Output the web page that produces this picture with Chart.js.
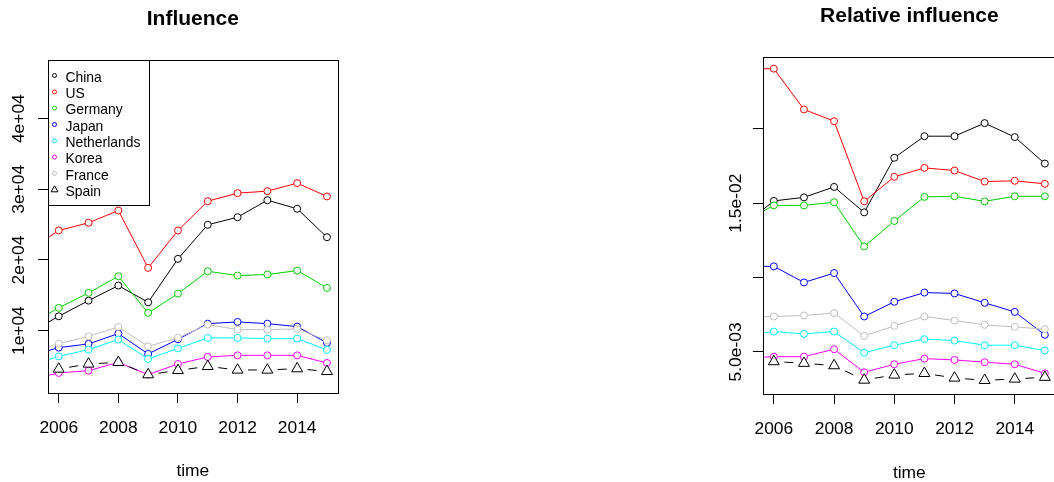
<!DOCTYPE html>
<html>
<head>
<meta charset="utf-8">
<title>Influence and relative influence</title>
<script src="https://cdn.jsdelivr.net/npm/chart.js@4.4.1/dist/chart.umd.min.js"></script>
<style>
  html, body { margin: 0; padding: 0; background: #ffffff; width: 1054px; height: 482px; overflow: hidden; }
  canvas { position: absolute; top: 0; }
  #influence { left: 0; }
  #relative { left: 703px; }
</style>
</head>
<body>
<canvas id="influence" width="345" height="482"></canvas>
<canvas id="relative" width="360" height="484"></canvas>
<script>
// ---- data ----
const years = [2005, 2006, 2007, 2008, 2009, 2010, 2011, 2012, 2013, 2014, 2015];
const countries = ['China', 'US', 'Germany', 'Japan', 'Netherlands', 'Korea', 'France', 'Spain'];
const colors = ['#000000', '#FF0000', '#00CD00', '#0000FF', '#00FFFF', '#FF00FF', '#BEBEBE', '#000000'];

// influence (absolute)
const infChina       = [9660, 12030, 14250, 16380, 14010, 20160, 24980, 26050, 28460, 27250, 23220];
const infUS          = [21300, 24170, 25260, 27000, 18880, 24170, 28320, 29460, 29740, 30870, 28990];
const infGermany     = [10850, 13220, 15340, 17690, 12510, 15240, 18400, 17790, 17940, 18500, 16050];
const infJapan       = [6420, 7590, 8120, 9580, 6700, 8770, 10990, 11230, 10990, 10570, 8260];
const infNetherlands = [5050, 6360, 7310, 8730, 5990, 7490, 8970, 8970, 8870, 8870, 7270];
const infKorea       = [3060, 4010, 4330, 5510, 3770, 5280, 6270, 6500, 6500, 6500, 5420];
const infFrance      = [6700, 8160, 9190, 10520, 7780, 8970, 10850, 10140, 10140, 10240, 8630];
const infSpain       = [3900, 4570, 5280, 5510, 3770, 4370, 4940, 4430, 4430, 4620, 4230];

// relative influence
const relChina       = [0.01353, 0.01515, 0.01539, 0.01609, 0.01438, 0.01805, 0.01950, 0.01950, 0.02038, 0.01944, 0.01766];
const relUS          = [0.02401, 0.02404, 0.02130, 0.02051, 0.01512, 0.01677, 0.01737, 0.01719, 0.01645, 0.01650, 0.01630];
const relGermany     = [0.01374, 0.01485, 0.01485, 0.01506, 0.01209, 0.01380, 0.01542, 0.01546, 0.01512, 0.01546, 0.01546];
const relJapan       = [0.01075, 0.01075, 0.00967, 0.01030, 0.00738, 0.00837, 0.00899, 0.00893, 0.00830, 0.00769, 0.00615];
const relNetherlands = [0.00610, 0.00637, 0.00621, 0.00637, 0.00495, 0.00545, 0.00586, 0.00576, 0.00545, 0.00545, 0.00509];
const relKorea       = [0.00458, 0.00468, 0.00468, 0.00518, 0.00363, 0.00417, 0.00455, 0.00446, 0.00431, 0.00417, 0.00356];
const relFrance      = [0.00735, 0.00738, 0.00745, 0.00761, 0.00608, 0.00675, 0.00738, 0.00711, 0.00682, 0.00668, 0.00653];
const relSpain       = [0.00396, 0.00435, 0.00424, 0.00408, 0.00311, 0.00345, 0.00356, 0.00325, 0.00309, 0.00318, 0.00330];

// axes
const xMin = 2005.64, xMax = 2015.36;
const xTicks = [2006, 2008, 2010, 2012, 2014];
const infMin = 1172, infMax = 48302;
const infTicks = [10000, 20000, 30000, 40000];
const infTickLabels = ['1e+04', '2e+04', '3e+04', '4e+04'];
const relMin = 0.002171, relMax = 0.024824;
const relTicks = [0.005, 0.010, 0.015, 0.020];
const relTickLabels = ['5.0e-03', '', '1.5e-02', ''];

// ---- drawing ----
const FONT = '"Liberation Sans", Arial, Helvetica, sans-serif';
Chart.defaults.font.family = FONT;
Chart.defaults.color = '#000000';

const DASH_ON = 9;

function makeDatasets(series) {
  return series.map((vals, i) => {
    const isSpain = countries[i] === 'Spain';
    const ds = {
      label: countries[i],
      data: years.map((yr, k) => ({ x: yr, y: vals[k] })),
      borderColor: colors[i],
      backgroundColor: colors[i],
      borderWidth: 1,
      pointStyle: isSpain ? 'triangle' : 'circle',
      pointRadius: isSpain ? 6.3 : 3.5,
      pointBorderWidth: 1,
      pointBorderColor: colors[i],
      pointBackgroundColor: '#ffffff',
      tension: 0,
      order: countries.length - i,
      clip: { left: 0, top: 0, right: 0, bottom: 0 }
    };
    if (isSpain) {
      // one centred dash between consecutive markers
      ds.borderDash = [DASH_ON, 60];
      ds.segment = {
        borderDash: [DASH_ON, 60],
        borderDashOffset: c => {
          const len = Math.hypot(c.p1.x - c.p0.x, c.p1.y - c.p0.y);
          return -((len - DASH_ON) / 2) + c.p0DataIndex * 1e-6;
        }
      };
    }
    return ds;
  });
}

// plot frame around the chart area
const frame = {
  id: 'frame',
  afterDraw(chart) {
    const { ctx, chartArea: a } = chart;
    const l = Math.round(a.left) + 0.5, t = Math.round(a.top) + 0.5;
    const r = Math.round(a.right) + 0.5, b = Math.round(a.bottom) + 0.5;
    ctx.save();
    ctx.strokeStyle = '#000000';
    ctx.lineWidth = 1;
    ctx.strokeRect(l, t, r - l, b - t);
    ctx.restore();
  }
};

// boxed legend in the top-left corner of the plot
const boxLegend = {
  id: 'boxLegend',
  afterDraw(chart) {
    const { ctx, chartArea: a } = chart;
    const sets = chart.data.datasets;
    ctx.save();
    ctx.font = '13.9px ' + FONT;
    const textW = Math.max(...sets.map(d => ctx.measureText(d.label).width));
    const x0 = Math.round(a.left) + 0.5, y0 = Math.round(a.top) + 0.5;
    const w = Math.round(17.5 + textW + 9);
    const h = Math.round(15.3 + 16.33 * (sets.length - 1) + 15.5);
    ctx.fillStyle = '#ffffff';
    ctx.fillRect(x0, y0, w, h);
    ctx.strokeStyle = '#000000';
    ctx.lineWidth = 1;
    ctx.strokeRect(x0, y0, w, h);
    sets.forEach((d, i) => {
      const sy = y0 + 15 + 16.33 * i;
      const sx = x0 + 6;
      ctx.strokeStyle = d.borderColor;
      ctx.fillStyle = '#ffffff';
      Chart.helpers.drawPoint(ctx, {
        pointStyle: d.pointStyle,
        radius: d.pointStyle === 'triangle' ? 4 : 2,
        borderWidth: 1,
        rotation: 0
      }, sx, sy);
      ctx.fillStyle = '#000000';
      ctx.textBaseline = 'middle';
      ctx.textAlign = 'left';
      ctx.fillText(d.label, x0 + 17, sy + 2.5);
    });
    ctx.restore();
  }
};

function axisCommon() {
  return {
    grid: { display: true, drawOnChartArea: false, drawTicks: true, tickLength: 10, color: '#000000', tickColor: '#000000', lineWidth: 1 },
    border: { display: true, color: '#000000', width: 1 }
  };
}

function makeChart(id, cfg) {
  return new Chart(document.getElementById(id), {
    type: 'line',
    data: { datasets: makeDatasets(cfg.series) },
    plugins: cfg.legend ? [frame, boxLegend] : [frame],
    options: {
      responsive: false,
      animation: false,
      events: [],
      layout: { padding: { left: 0, right: cfg.padRight, top: 0, bottom: 0 } },
      plugins: {
        legend: { display: false },
        tooltip: { enabled: false },
        title: {
          display: true,
          text: cfg.title,
          fullSize: false,
          color: '#000000',
          font: { size: 21, weight: 'bold', family: FONT },
          padding: { top: cfg.titleTop, bottom: 28.1 }
        }
      },
      scales: {
        x: Object.assign(axisCommon(), {
          type: 'linear',
          bounds: 'data',
          min: xMin,
          max: xMax,
          afterBuildTicks: s => { s.ticks = xTicks.map(v => ({ value: v })); },
          afterFit: s => { s.height = cfg.xHeight; },
          ticks: {
            autoSkip: false, minRotation: 0, maxRotation: 0,
            padding: cfg.xLabelPad, font: { size: 17.4 }, color: '#000000',
            callback: v => String(v)
          },
          title: { display: true, text: 'time', color: '#000000', font: { size: 17.4 }, padding: { top: 0, bottom: 0 } }
        }),
        y: Object.assign(axisCommon(), {
          type: 'linear',
          bounds: 'data',
          min: cfg.yMin,
          max: cfg.yMax,
          afterBuildTicks: s => { s.ticks = cfg.yTicks.map(v => ({ value: v })); },
          afterFit: s => { s.width = cfg.yWidth; },
          ticks: {
            autoSkip: false, minRotation: 90, maxRotation: 90, crossAlign: 'center',
            padding: cfg.yLabelPad, font: { size: 17.4 }, color: '#000000',
            callback: v => cfg.yLabels[cfg.yTicks.indexOf(v)]
          }
        })
      }
    }
  });
}

makeChart('influence', {
  title: 'Influence',
  series: [infChina, infUS, infGermany, infJapan, infNetherlands, infKorea, infFrance, infSpain],
  legend: true,
  padRight: 1,
  titleTop: 6.7,
  xHeight: 89,
  xLabelPad: 15.2,
  yWidth: 48,
  yLabelPad: -5.5,
  yMin: infMin, yMax: infMax,
  yTicks: infTicks, yLabels: infTickLabels
});

makeChart('relative', {
  title: 'Relative influence',
  series: [relChina, relUS, relGermany, relJapan, relNetherlands, relKorea, relFrance, relSpain],
  legend: false,
  padRight: 0,
  titleTop: 3.7,
  xHeight: 90,
  xLabelPad: 14.5,
  yWidth: 60,
  yLabelPad: -12.8,
  yMin: relMin, yMax: relMax,
  yTicks: relTicks, yLabels: relTickLabels
});
</script>
</body>
</html>
